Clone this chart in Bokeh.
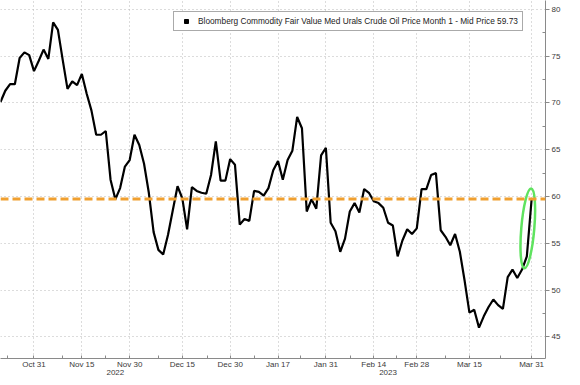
from bokeh.plotting import figure
from bokeh.models import (LinearAxis, FixedTicker, Range1d, Label, Legend,
                          LegendItem, Span)
from bokeh.embed import file_html
from bokeh.resources import INLINE

# ---- data (one value per trading day) ----
values = [
    70.1, 71.3, 72.0, 72.0, 74.8, 75.4, 75.1, 73.4, 74.5, 75.7,
    74.7, 78.6, 77.8, 74.6, 71.5, 72.3, 71.9, 73.1, 71.0, 69.2,
    66.6, 66.6, 67.0, 61.8, 59.7, 60.9, 63.2, 63.9, 66.6, 65.5,
    63.5, 60.4, 56.2, 54.3, 53.8, 55.9, 58.5, 61.1, 59.8, 56.5,
    61.0, 60.6, 60.4, 60.3, 62.3, 65.9, 61.7, 61.7, 64.0, 63.4,
    57.0, 57.6, 57.4, 60.6, 60.5, 60.1, 60.9, 62.8, 63.8, 61.8,
    63.9, 64.9, 68.5, 67.3, 58.4, 59.7, 58.7, 64.4, 65.2, 57.2,
    56.3, 54.1, 55.5, 58.4, 59.3, 58.3, 60.8, 60.4, 59.5, 59.3,
    58.8, 57.2, 56.9, 53.6, 55.3, 56.5, 56.0, 56.6, 60.8, 60.8,
    62.3, 62.5, 56.4, 55.7, 54.8, 56.0, 54.1, 51.0, 47.6, 47.9,
    46.0, 47.2, 48.2, 49.0, 48.4, 48.0, 51.4, 52.2, 51.3, 52.2,
    53.6, 59.73,
]
day_index = list(range(len(values)))

date_tick_pos = [7, 17, 27, 38, 48, 58, 68, 78, 87, 98, 111]
date_tick_labels = ["Oct 31", "Nov 15", "Nov 30", "Dec 15", "Dec 30", "Jan 17",
                    "Jan 31", "Feb 14", "Feb 28", "Mar 15", "Mar 31"]
date_minor_pos = [1.4, 13.0, 22.0, 33.0, 43.2, 53.1, 62.8, 73.1, 82.8, 93.1, 104.4]
year_pos = [24, 81]
year_labels = ["2022", "2023"]
y_ticks = [45, 50, 55, 60, 65, 70, 75, 80]
y_minor = [42.5, 47.5, 52.5, 57.5, 62.5, 67.5, 72.5, 77.5]
last_price = 59.73
series_name = "Bloomberg Commodity Fair Value Med Urals Crude Oil Price Month 1 - Mid Price 59.73"
highlight_x = [110.2]
highlight_y = [56.6]

FONT = "Liberation Sans"
AX = "#8a8a8a"
TXT = "#3a3a3a"

p = figure(width=572, height=377, output_backend="svg", toolbar_location=None,
           x_range=Range1d(0, 113.9), y_range=Range1d(42.7, 80.94),
           y_axis_location="right",
           min_border_left=0, min_border_top=0, min_border_right=27,
           min_border_bottom=19)
p.outline_line_color = None
p.background_fill_color = "white"

# y axis (right)
ya = p.right[0]
ya.ticker = FixedTicker(ticks=y_ticks, minor_ticks=y_minor)
ya.axis_line_color = AX
ya.major_tick_line_color = AX
ya.minor_tick_line_color = AX
ya.major_tick_out = 4
ya.major_tick_in = 0
ya.minor_tick_in = 3
ya.minor_tick_out = 0
ya.major_label_standoff = 2
ya.major_label_text_font = FONT
ya.major_label_text_font_size = "8px"
ya.major_label_text_color = TXT

# x axis (dates)
xa = p.below[0]
xa.ticker = FixedTicker(ticks=date_tick_pos, minor_ticks=date_minor_pos)
xa.major_label_overrides = dict(zip(date_tick_pos, date_tick_labels))
xa.axis_line_color = AX
xa.major_tick_line_color = AX
xa.minor_tick_line_color = AX
xa.major_tick_in = 3
xa.major_tick_out = 0
xa.minor_tick_in = 3
xa.minor_tick_out = 0
xa.major_label_standoff = 1
xa.major_label_text_font = FONT
xa.major_label_text_font_size = "8px"
xa.major_label_text_color = TXT

# year axis
year_axis = LinearAxis(ticker=FixedTicker(ticks=year_pos),
                       major_label_overrides=dict(zip(year_pos, year_labels)))
year_axis.axis_line_color = None
year_axis.major_tick_line_color = None
year_axis.minor_tick_line_color = None
year_axis.major_tick_out = 0
year_axis.major_tick_in = 0
year_axis.minor_tick_out = 0
year_axis.minor_tick_in = 0
year_axis.major_label_standoff = -2
year_axis.major_label_text_font = FONT
year_axis.major_label_text_font_size = "8px"
year_axis.major_label_text_color = TXT
p.add_layout(year_axis, "below")

# grids
for g in (p.xgrid, p.ygrid):
    g.grid_line_color = "#b8b8b8"
    g.grid_line_dash = "1 3"
    g.grid_line_width = 1

# price line
p.line(day_index, values, line_color="black", line_width=2.2)

# last price dashed level
p.add_layout(Span(location=last_price, dimension="width", line_color="#F0A030",
                  line_width=3, line_dash="8 4"))

# highlight ellipse
p.ellipse(x=highlight_x, y=highlight_y, width=13, height=80,
          width_units="screen", height_units="screen", angle=-0.085,
          fill_color=None, line_color="#5fe35f", line_width=2.5)

# last price tag
p.add_layout(Label(x=113.9, y=last_price, text="59.73", x_offset=4,
                   text_baseline="middle", text_align="left",
                   text_color="white", text_font=FONT, text_font_size="8px",
                   background_fill_color="black", padding=1))

# legend (marker renderer kept off-frame so only its legend glyph shows)
dummy = p.scatter([-100], [-100], marker="square", color="black", size=9)
legend = Legend(items=[LegendItem(label=series_name, renderers=[dummy])],
                location=(173, 327))
legend.border_line_color = "#555555"
legend.border_line_width = 1
legend.background_fill_color = "white"
legend.background_fill_alpha = 1
legend.label_text_font = FONT
legend.label_text_font_size = "8.3px"
legend.label_text_color = "#222222"
legend.glyph_width = 16
legend.glyph_height = 10
legend.label_height = 10
legend.label_standoff = 4
legend.padding = 4
legend.margin = 0
p.add_layout(legend)

open("out.html", "w").write(file_html(p, INLINE))
